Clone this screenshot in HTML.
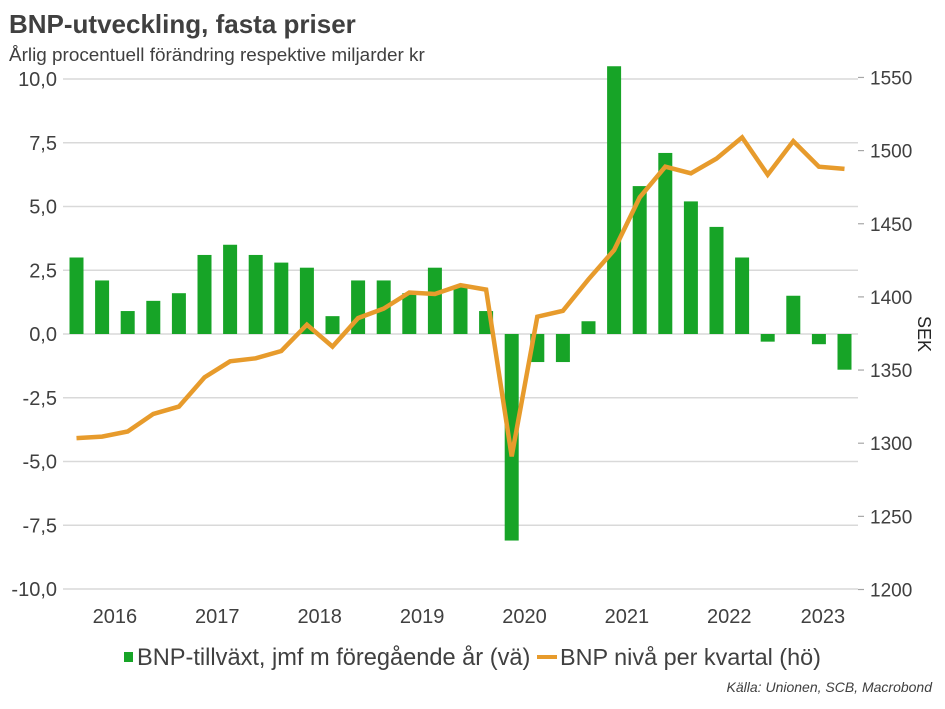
<!DOCTYPE html>
<html lang="sv">
<head>
<meta charset="utf-8">
<title>BNP-utveckling, fasta priser</title>
<style>
html,body{margin:0;padding:0;background:#fff;}
svg{display:block;font-family:"Liberation Sans",sans-serif;filter:blur(0.3px);}
</style>
</head>
<body>
<svg id="chart" xmlns="http://www.w3.org/2000/svg" width="945" height="709" viewBox="0 0 945 709">
  <rect width="945" height="709" fill="#fff"/>
  <text x="9" y="33" font-size="26" font-weight="bold" fill="#404040">BNP-utveckling, fasta priser</text>
  <text x="9" y="61" font-size="18.9" fill="#404040">Årlig procentuell förändring respektive miljarder kr</text>
  <g id="grid"></g>
  <g id="bars"></g>
  <g id="line"></g>
  <g id="yleft"></g>
  <g id="yright"></g>
  <g id="xaxis"></g>
  <text transform="translate(918,334) rotate(90)" text-anchor="middle" font-size="18" fill="#262626">SEK</text>
  <g>
    <rect x="124" y="652" width="9" height="10" fill="#17A427"/>
    <text x="137" y="665" font-size="23.6" fill="#404040">BNP-tillväxt, jmf m föregående år (vä)</text>
    <rect x="537" y="655" width="20" height="4" fill="#E79B2C"/>
    <text x="560" y="665" font-size="23.4" fill="#404040">BNP nivå per kvartal (hö)</text>
  </g>
  <text x="932" y="692" text-anchor="end" font-size="14" font-style="italic" fill="#404040">Källa: Unionen, SCB, Macrobond</text>
</svg>
<script>
var years = ["2016","2017","2018","2019","2020","2021","2022","2023"];
var quartersPerYear = [4,4,4,4,4,4,4,3];
var growthValues = [3.0,2.1,0.9,1.3,1.6,3.1,3.5,3.1,2.8,2.6,0.7,2.1,2.1,1.6,2.6,1.9,0.9,-8.1,-1.1,-1.1,0.5,10.5,5.8,7.1,5.2,4.2,3.0,-0.3,1.5,-0.4,-1.4];
var levelValues = [1303.5,1304.5,1308,1320,1325,1345,1356,1358,1363,1381,1366,1385.5,1392,1403,1402,1408,1405,1291,1386.5,1390.5,1412,1432,1468,1489,1484.5,1494.5,1509,1483.5,1506.5,1489,1487.5];
var leftTicks = [10,7.5,5,2.5,0,-2.5,-5,-7.5,-10];
var rightTicks = [1550,1500,1450,1400,1350,1300,1250,1200];

var NS = "http://www.w3.org/2000/svg";
function yLeft(v){ return 334 + (0 - v) * 25.5; }
function yRight(v){ return 589.5 - (v - 1200) * 1.463; }
function xPos(i){ return 76.5 + i * 25.6; }
function make(tag, attrs, parent){
  var el = document.createElementNS(NS, tag);
  for (var k in attrs) el.setAttribute(k, attrs[k]);
  parent.appendChild(el);
  return el;
}
var gGrid = document.getElementById("grid");
var gBars = document.getElementById("bars");
var gLine = document.getElementById("line");
var gLeft = document.getElementById("yleft");
var gRight = document.getElementById("yright");
var gX = document.getElementById("xaxis");

leftTicks.forEach(function(t){
  var y = yLeft(t);
  var ln = make("line", {x1:63, x2:858, y1:y, y2:y, stroke:"#d9d9d9", "stroke-width":1.5}, gGrid);
  
  
  var tx = make("text", {x:57, y:y+7, "text-anchor":"end", "font-size":20, fill:"#404040"}, gLeft);
  
  
  tx.textContent = t.toFixed(1).replace(".", ",");
});

growthValues.forEach(function(v, i){
  var y0 = yLeft(0), y1 = yLeft(v);
  var b = make("rect", {x:xPos(i)-7, y:Math.min(y0,y1), width:14, height:Math.abs(y1-y0), fill:"#17A427"}, gBars);
  
  
});

var pts = levelValues.map(function(v, i){ return xPos(i).toFixed(1) + "," + yRight(v).toFixed(1); }).join(" ");
var pl = make("polyline", {points:pts, fill:"none", stroke:"#E79B2C", "stroke-width":4.5, "stroke-linejoin":"miter", "stroke-miterlimit":4}, gLine);



rightTicks.forEach(function(t){
  var y = yRight(t);
  var m = make("line", {x1:858, x2:864, y1:y, y2:y, stroke:"#a6a6a6", "stroke-width":1.2}, gRight);
  
  
  var tx = make("text", {x:870, y:y+7, "font-size":19, fill:"#404040"}, gRight);
  
  
  tx.textContent = t;
});

var idx = 0;
years.forEach(function(yr, i){
  var n = quartersPerYear[i];
  var c = (xPos(idx) + xPos(idx + n - 1)) / 2;
  idx += n;
  var tx = make("text", {x:c + (n < 4 ? 4 : 0), y:623, "text-anchor":"middle", "font-size":20, fill:"#404040"}, gX);
  
  
  tx.textContent = yr;
});
</script>
</body>
</html>
